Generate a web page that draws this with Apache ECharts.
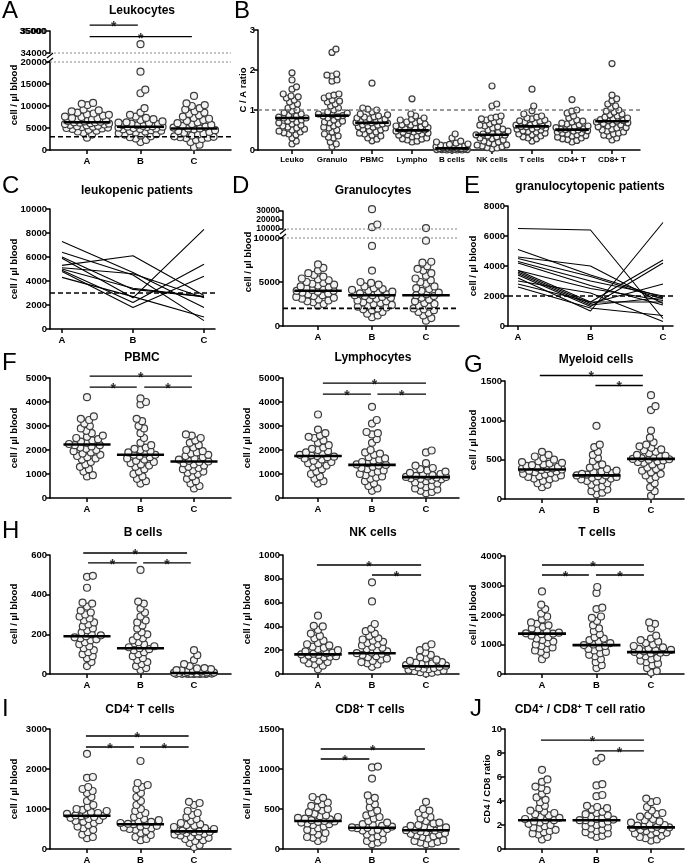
<!DOCTYPE html>
<html><head><meta charset="utf-8">
<script src="https://cdn.jsdelivr.net/npm/echarts@6/dist/echarts.min.js"></script>
<style>html,body{margin:0;padding:0;background:#fff}#c{width:689px;height:865px}</style>
</head><body><div id="c"></div><script>
// ---------------- DATA ----------------
const groupLabels = ['A','B','C'];
// A: Leukocytes (cell/µl)
const leukoA = [10700,10500,10200,9200,9000,8800,8500,8300,8100,8000,7800,7600,7500,7300,7200,7000,6900,6800,6700,6600,6500,6400,6300,6300,6200,6100,6000,5900,5800,5700,5600,5500,5400,5300,5200,5100,5000,4900,4800,4600,4400,4200,3900,3500,2800];
const leukoB = [17800,13700,12900,9500,8500,8000,7600,7300,7000,6800,6500,6300,6200,6100,6000,5900,5700,5600,5500,5400,5300,5300,5200,5100,5000,4900,4800,4700,4500,4400,4300,4200,4000,3800,3600,3500,3300,3100,2900,2600,2300,1800];
const leukoBHigh = [34400];
const leukoC = [12300,10600,10200,10000,9500,9200,8800,8500,8200,7900,7600,7300,7100,6800,6600,6300,6100,5900,5700,5500,5300,5100,4900,4900,4700,4500,4300,4100,3900,3700,3500,3300,3100,3000,2900,2800,2700,2500,2300,1800,1200,700];
const leukoMed = [6300,5300,4900];
const leukoThreshold = 3000;
const leukoUpperTicks = [34000,35000];
// B: C/A ratio
const ratioCats = ['Leuko','Granulo','PBMC','Lympho','B cells','NK cells','T cells','CD4+ T','CD8+ T'];
const ratioLeuko = [1.93,1.75,1.58,1.52,1.4,1.35,1.33,1.3,1.25,1.2,1.15,1.1,1.05,1.0,0.97,0.93,0.9,0.87,0.85,0.82,0.8,0.8,0.78,0.75,0.72,0.7,0.68,0.65,0.62,0.6,0.57,0.55,0.52,0.5,0.47,0.45,0.43,0.4,0.38,0.3,0.22,0.15];
const ratioGranulo = [2.52,2.44,1.9,1.87,1.85,1.75,1.72,1.4,1.37,1.35,1.3,1.25,1.22,1.2,1.15,1.1,1.05,1.0,0.95,0.92,0.9,0.88,0.86,0.85,0.83,0.8,0.75,0.72,0.7,0.68,0.65,0.6,0.57,0.55,0.5,0.45,0.4,0.35,0.32,0.3,0.2,0.15,0.08];
const ratioPBMC = [1.67,1.05,1.02,1.0,0.95,0.9,0.88,0.85,0.83,0.82,0.8,0.78,0.77,0.75,0.73,0.72,0.7,0.69,0.68,0.67,0.65,0.63,0.62,0.6,0.58,0.57,0.55,0.52,0.5,0.48,0.45,0.42,0.4,0.37,0.35,0.3,0.27,0.23];
const ratioLympho = [1.28,0.9,0.85,0.8,0.77,0.75,0.72,0.7,0.68,0.65,0.63,0.62,0.6,0.58,0.56,0.55,0.53,0.52,0.5,0.49,0.48,0.47,0.45,0.44,0.42,0.4,0.38,0.37,0.35,0.33,0.3,0.28,0.27,0.25,0.22,0.2];
const ratioB = [0.4,0.3,0.22,0.2,0.17,0.15,0.14,0.12,0.11,0.1,0.09,0.08,0.08,0.07,0.06,0.06,0.05,0.05,0.04,0.04,0.03,0.03,0.02,0.02,0.02,0.01,0.01,0.01,0.0,0.0,0.0,0.0];
const ratioNK = [1.6,1.15,1.1,0.85,0.82,0.8,0.78,0.75,0.72,0.7,0.65,0.62,0.6,0.58,0.55,0.52,0.5,0.47,0.45,0.42,0.4,0.38,0.37,0.35,0.33,0.3,0.28,0.25,0.22,0.2,0.18,0.15,0.13,0.12,0.1,0.08,0.06,0.05,0.03];
const ratioT = [1.52,1.1,0.98,0.9,0.85,0.82,0.8,0.78,0.75,0.73,0.72,0.7,0.68,0.65,0.63,0.62,0.6,0.59,0.58,0.57,0.55,0.53,0.52,0.5,0.48,0.46,0.45,0.42,0.4,0.38,0.35,0.33,0.3,0.28,0.22];
const ratioCD4 = [1.26,1.0,0.97,0.92,0.85,0.8,0.75,0.72,0.7,0.67,0.65,0.63,0.6,0.58,0.56,0.55,0.53,0.52,0.51,0.5,0.48,0.47,0.45,0.43,0.42,0.4,0.38,0.36,0.35,0.32,0.3,0.28,0.26,0.24,0.2];
const ratioCD8 = [2.16,1.37,1.28,1.23,1.15,1.1,1.05,1.0,0.97,0.95,0.9,0.88,0.85,0.82,0.8,0.78,0.76,0.74,0.73,0.72,0.7,0.68,0.66,0.65,0.63,0.6,0.58,0.56,0.55,0.52,0.5,0.47,0.45,0.42,0.4,0.37,0.35,0.3,0.25];
const ratioMed = [0.8,0.86,0.68,0.49,0.04,0.38,0.59,0.51,0.72];
// C: leukopenic patients (per patient: A, B, C)
const leukopenicA = [7300,6400,6000,5900,5300,5100,5000,4900,4800,4300];
const leukopenicB = [4700,4500,3300,2600,6100,4600,3400,2200,1800,2700];
const leukopenicC = [1800,700,2700,8300,2800,2600,2700,5400,4400,1000];
// D: Granulocytes
const granuA = [7000,6600,6300,6000,5800,5600,5400,5300,5200,5000,4900,4800,4700,4600,4500,4400,4300,4200,4100,4000,4000,3900,3800,3700,3600,3500,3400,3300,3200,3100,3000,2900,2800,2700,2500,2300];
const granuB = [9100,6300,5000,4900,4700,4500,4300,4200,4100,4000,3900,3800,3700,3600,3500,3500,3400,3300,3200,3100,3000,2900,2800,2700,2600,2500,2400,2300,2200,2100,2000,1900,1800,1600,1400,1200,1000];
const granuBHigh = [32000,15000,12000];
const granuC = [9700,7300,7200,6800,6500,6300,6000,5700,5400,5200,5000,4800,4500,4300,4200,4000,3800,3600,3500,3400,3200,3000,2800,2600,2500,2300,2200,2000,1900,1800,1600,1500,1200,900,600];
const granuCHigh = [11000];
const granuMed = [4000,3500,3500];
const granuThreshold = 2000;
// E: granulocytopenic patients
const granulopenicA = [6500,5100,4600,4500,4300,4200,3700,3700,3600,3500,3400,3200,3000,2800,2600];
const granulopenicB = [6400,3400,4000,3300,3000,2700,2500,1600,1500,1400,1300,1000,2200,1600,1200];
const granulopenicC = [500,1900,1500,1800,2000,1400,1700,4400,2800,1900,4200,6900,300,1600,700];
// F: PBMC
const pbmcA = [4200,3400,3300,3250,3100,3000,2900,2800,2700,2600,2550,2500,2450,2400,2350,2300,2250,2200,2200,2150,2100,2050,2000,1950,1900,1850,1800,1750,1700,1650,1600,1500,1400,1300,1200,1100,950,900];
const pbmcB = [4150,4000,3900,3300,3200,3000,2900,2700,2500,2300,2200,2100,2050,2000,1950,1900,1850,1800,1800,1750,1700,1650,1600,1550,1500,1450,1400,1350,1300,1200,1100,1000,900,800,700,600];
const pbmcC = [2650,2600,2500,2400,2300,2200,2100,2000,1950,1900,1850,1800,1750,1700,1650,1600,1550,1520,1500,1450,1400,1350,1300,1250,1200,1150,1100,1050,1000,900,800,700,600,500,400];
const pbmcMed = [2230,1800,1520];
// Lymphocytes
const lymphoA = [3480,2850,2700,2600,2550,2500,2400,2300,2200,2100,2050,2000,1950,1900,1850,1800,1780,1750,1720,1700,1650,1600,1550,1500,1450,1400,1350,1300,1200,1100,1000,900,800,700,600];
const lymphoB = [3800,3250,3100,2750,2700,2650,2450,2300,2000,1900,1850,1800,1700,1650,1600,1550,1500,1450,1400,1380,1350,1300,1250,1200,1150,1100,1050,1000,950,900,850,800,700,600,500,400,300];
const lymphoC = [1980,1900,1450,1350,1250,1200,1150,1100,1050,1000,980,950,920,900,880,870,850,820,800,780,750,700,650,600,550,500,450,400,350,300,250,200];
const lymphoMed = [1750,1380,870];
// G: Myeloid cells
const myeloA = [600,560,540,520,500,480,470,460,450,440,430,420,410,400,390,385,380,375,370,360,350,340,330,320,310,300,290,280,270,260,250,230,200,180,150];
const myeloB = [930,690,660,600,560,520,480,440,420,400,380,360,350,340,330,320,310,300,300,290,280,270,260,250,240,230,220,200,180,160,140,120,100,80,60];
const myeloC = [1320,1180,1130,870,780,720,690,670,650,630,620,600,580,560,550,540,530,520,510,505,500,490,480,470,460,440,420,400,380,360,340,320,300,280,250,200,150,100,40];
const myeloMed = [375,300,510];
// H: B cells
const bcellA = [495,490,435,360,355,340,320,310,300,290,280,270,260,250,240,230,220,210,200,195,190,185,180,175,170,160,150,140,130,120,110,100,90,80,60,40];
const bcellB = [525,365,355,330,310,290,270,260,245,230,210,200,190,180,170,160,150,140,135,130,125,120,110,100,90,80,70,60,50,40,30,20];
const bcellC = [120,95,70,50,40,30,28,25,20,18,15,12,10,8,7,6,5,5,4,3,3,2,2,1,1,0,0,0,0];
const bcellMed = [190,130,5];
// NK cells
const nkA = [490,405,400,370,340,320,300,280,260,250,240,230,220,210,200,190,180,175,170,165,160,155,150,145,140,130,120,110,100,90,80,70,40];
const nkB = [770,610,420,380,360,340,320,300,290,280,270,260,250,240,230,220,210,200,190,180,175,170,160,150,140,130,120,110,100,90,80,60];
const nkC = [250,230,200,180,160,140,130,120,110,100,95,90,85,80,75,70,65,60,55,50,45,40,35,30,25,20,15,10,5];
const nkMed = [165,175,65];
// T cells
const tcellA = [2800,2350,2200,2050,1950,1850,1750,1700,1650,1600,1550,1500,1450,1400,1380,1370,1350,1300,1250,1200,1150,1100,1050,1000,950,900,850,800,750,650,500];
const tcellB = [2950,2750,2250,2200,1950,1900,1800,1650,1550,1450,1350,1250,1200,1150,1100,1050,1000,980,950,900,850,800,750,700,650,600,500,400,300,200];
const tcellC = [1750,1700,1550,1300,1200,1150,1100,1050,1000,950,900,870,850,820,800,770,750,740,720,700,650,600,550,500,450,400,350,300,200,100,50];
const tcellMed = [1370,980,740];
// I: CD4+ T cells
const cd4A = [2380,1800,1780,1550,1500,1450,1400,1300,1200,1100,1050,1000,980,950,920,900,880,860,840,830,820,800,780,750,720,700,680,650,600,560,520,480,420,360,300,270];
const cd4B = [2200,1650,1600,1550,1500,1400,1300,1200,1100,1000,950,900,850,800,750,720,700,680,650,630,620,600,580,560,540,520,500,480,450,400,350,300,250,220];
const cd4C = [1180,1150,1100,950,900,850,800,750,700,650,620,600,580,550,520,500,480,460,450,440,430,420,400,380,360,340,320,300,280,250,220,200,150,100,50];
const cd4Med = [830,620,440];
// CD8+ T cells
const cd8A = [650,640,610,580,560,540,520,500,480,460,440,420,410,400,390,380,370,360,350,345,340,330,320,310,300,280,260,240,220,200,180,150,140,130,100];
const cd8B = [1030,1020,880,670,640,600,560,520,480,450,420,400,380,350,330,310,300,290,280,270,265,260,250,240,230,220,200,180,160,140,120,100,80,60];
const cd8C = [590,500,480,450,430,400,380,350,330,320,300,290,280,270,260,250,240,235,230,220,210,200,190,180,170,160,150,130,110,100,90,80,70,60];
const cd8Med = [350,265,235];
// J: CD4/CD8 ratio
const cdRatioA = [6.6,5.8,5.6,5.2,5.1,4.9,4.6,4.3,4.1,3.9,3.6,3.4,3.2,3.1,3.0,2.9,2.8,2.7,2.6,2.5,2.4,2.4,2.3,2.2,2.1,2.0,1.9,1.8,1.7,1.6,1.5,1.4,1.3,1.2,1.0,0.8];
const cdRatioB = [7.6,7.3,5.4,5.3,4.5,4.4,3.6,3.5,3.4,3.3,3.1,3.0,2.9,2.8,2.7,2.6,2.5,2.45,2.4,2.4,2.3,2.2,2.1,2.0,1.9,1.8,1.7,1.6,1.5,1.4,1.3,1.2,1.1,1.0];
const cdRatioC = [4.2,4.0,3.9,3.5,3.2,3.0,2.9,2.8,2.7,2.5,2.4,2.3,2.2,2.1,2.0,1.95,1.9,1.85,1.8,1.75,1.7,1.65,1.6,1.5,1.4,1.35,1.3,1.2,1.1,1.0,0.9,0.8,0.7];
const cdRatioMed = [2.4,2.4,1.8];

// ---------------- BUILD ----------------
const FONT = '"Liberation Sans", Arial, Helvetica, sans-serif';
const BLACK = '#000';
const grids = [], xAxis = [], yAxis = [], series = [], graphic = [];

function axes(o){
  const gi = grids.length;
  grids.push({left:o.L, top:o.T, width:o.R-o.L, height:o.B-o.T});
  const xmin = (o.L-o.cx0)/o.d, xmax = (o.R-o.cx0)/o.d;
  const labels = o.labels || [];
  const ticks = labels.map((_,i)=>i);
  xAxis.push({gridIndex:gi, type:'value', min:xmin, max:xmax, show:labels.length>0,
    axisLine:{show:true,onZero:false,lineStyle:{color:BLACK,width:1.5}},
    axisTick:{show:true,customValues:ticks,length:4,lineStyle:{color:BLACK,width:1.5}},
    axisLabel:{show:true,customValues:ticks,formatter:v=>labels[Math.round(v)]||'',color:BLACK,fontFamily:FONT,fontWeight:'bold',fontSize:o.xfs||9.5,margin:6},
    splitLine:{show:false}});
  const yTick = {show:true,length:4,lineStyle:{color:BLACK,width:1.5}};
  const yLab = {color:BLACK,fontFamily:FONT,fontWeight:'bold',fontSize:o.yfs||9.5,margin:3,formatter:v=>String(Math.round(v*1000)/1000),
      showMinLabel:true, showMaxLabel:true, hideOverlap:false};
  if (o.yTicks){ yTick.customValues = o.yTicks; yLab.customValues = o.yTicks; }
  yAxis.push({gridIndex:gi, type:'value', min:o.yMin, max:o.yMax, interval:o.yInt,
    axisLine:{show:true,onZero:false,lineStyle:{color:BLACK,width:1.5}},
    axisTick:yTick, axisLabel:yLab, splitLine:{show:false}});
  return {gi, xmin, xmax, d:o.d, pxY:(o.B-o.T)/(o.yMax-o.yMin), T:o.T, B:o.B, L:o.L, yMin:o.yMin};
}

// bounded beeswarm: offsets in px, limited to +-maxHalf; overlaps allowed when crowded
function swarm(vals, pxY, pxX, size, maxHalf){
  const pts = vals.slice().sort((a,b)=>a-b).map(v=>({v, y:v*pxY, x:0}));
  const placed = [];
  for (const p of pts){
    const near = placed.filter(q=>Math.abs(q.y-p.y)<size);
    const cands = [0];
    for (const q of near){ const dx = Math.sqrt(size*size-(q.y-p.y)**2); cands.push(q.x+dx, q.x-dx); }
    const ok = cands.filter(c=>Math.abs(c)<=maxHalf).sort((a,b)=>Math.abs(a)-Math.abs(b));
    let chosen = null;
    for (const c of ok){
      if (near.every(q=>(q.x-c)**2+(q.y-p.y)**2 >= size*size-0.01)){ chosen = c; break; }
    }
    if (chosen === null){
      let best = -1;
      for (let c=-maxHalf; c<=maxHalf; c+=0.5){
        const md = Math.min(...near.map(q=>(q.x-c)**2+(q.y-p.y)**2));
        if (md > best + 1e-6 || (Math.abs(md-best)<1e-6 && Math.abs(c)<Math.abs(chosen))){ best = md; chosen = c; }
      }
    }
    p.x = chosen;
    placed.push(p);
  }
  return placed.map(p=>[p.x/pxX, p.v]);
}

function dots(ax, groups, size, idx, maxHalf){
  groups.forEach((vals,k)=>{
    const i = idx ? idx[k] : k;
    const pts = swarm(vals, ax.pxY, ax.d, size*0.85, maxHalf||20).map(([dx,v])=>[i+dx, v]);
    series.push({type:'scatter', xAxisIndex:ax.gi, yAxisIndex:ax.gi, data:pts, symbol:'circle', symbolSize:size,
      clip:false, silent:true, z:2,
      itemStyle:{color:'#f3f3f3', borderColor:'#3c3c3c', borderWidth:1.2, opacity:1}});
  });
}
function seg(ax, x1, x2, y, w, type, color, z){
  return {type:'line', xAxisIndex:ax.gi, yAxisIndex:ax.gi, data:[[x1,y],[x2,y]], symbol:'none', clip:false,
    silent:true, z:z||5, lineStyle:{color:color||BLACK, width:w, type:type||'solid'}};
}
function medians(ax, meds, hw){ meds.forEach((m,i)=>series.push(seg(ax, i-hw, i+hw, m, 2.6, 'solid', BLACK, 6))); }
function hline(ax, y, type, color, w){ series.push(seg(ax, ax.xmin, ax.xmax, y, w||1.5, type, color, 3)); }
function sig(ax, bars){
  bars.forEach(([a,b,y])=>{
    series.push(seg(ax, a, b, y, 1.3, 'solid', BLACK, 5));
    series.push({type:'scatter', xAxisIndex:ax.gi, yAxisIndex:ax.gi, data:[[(a+b)/2, y]], symbolSize:1, clip:false, silent:true,
      itemStyle:{color:'rgba(0,0,0,0)'},
      label:{show:true, formatter:'*', position:'inside', color:BLACK, fontSize:14, fontWeight:'bold', fontFamily:FONT, offset:[0,2]}});
  });
}
function patients(ax, a, b, c){
  a.forEach((v,i)=>series.push({type:'line', xAxisIndex:ax.gi, yAxisIndex:ax.gi, data:[[0,a[i]],[1,b[i]],[2,c[i]]],
    symbol:'none', clip:false, silent:true, z:2, lineStyle:{color:BLACK, width:1.1}}));
}
function text(x, y, t, opts){
  graphic.push(Object.assign({type:'text', x, y, silent:true, style:Object.assign({text:t, fill:BLACK, align:'center', verticalAlign:'middle', font:'bold 12px '+FONT}, opts&&opts.style||{})}, opts&&opts.el||{}));
}
function yname(x, y, t){ text(x, y, t, {style:{font:'bold 9.5px '+FONT}, el:{rotation:Math.PI/2}}); }
function brk(x, y){
  graphic.push({type:'line', silent:true, shape:{x1:x-3,y1:y+1,x2:x+3,y2:y-4}, style:{stroke:BLACK, lineWidth:1.2}});
  graphic.push({type:'line', silent:true, shape:{x1:x-3,y1:y+6,x2:x+3,y2:y+1}, style:{stroke:BLACK, lineWidth:1.2}});
}

// Column geometry
const LC = {L:50, R:231, cx0:87, d:53.5};
const MC = {L:283, R:459, cx0:318, d:54};
const RC = {L:505, R:684, cx0:542, d:54.5};

// Panel A (broken axis)
const aUp = axes({L:50, R:231, T:31, B:53, cx0:87, d:53.5, yMin:34000, yMax:35000, yInt:1000, yTicks:leukoUpperTicks});
const aLo = axes({L:50, R:231, T:62, B:150, cx0:87, d:53.5, yMin:0, yMax:20000, yInt:5000, labels:groupLabels});
hline(aUp, 34000, [2,2], '#888', 1); hline(aLo, 20000, [2,2], '#888', 1);
hline(aLo, leukoThreshold, [5,3], BLACK, 1.6);
dots(aLo, [leukoA, leukoB, leukoC], 7, null, 22);
dots(aUp, [leukoBHigh], 7, [1]);
medians(aLo, leukoMed, 0.44);
sig(aUp, [[0.05,0.95,35270],[0.05,1.96,34740]]);
brk(50, 57);
// top tick label of the short upper segment (placed at the 35000 tick of aUp)
text(aUp.L-4, aUp.T, String(leukoUpperTicks[1]), {style:{font:'bold 9.5px '+FONT, align:'right'}});

// Panel B
const pB = axes({L:258, R:640, T:30, B:150, cx0:292, d:40, yMin:0, yMax:3, yInt:1, labels:ratioCats, xfs:8});
hline(pB, 1, [4,3], '#777', 1.3);
dots(pB, [ratioLeuko, ratioGranulo, ratioPBMC, ratioLympho, ratioB, ratioNK, ratioT, ratioCD4, ratioCD8], 6, null, 16);
medians(pB, ratioMed, 0.42);

// Panel C
const pC = axes({L:50, R:215, T:209, B:329, cx0:62, d:71, yMin:0, yMax:10000, yInt:2000, labels:groupLabels});
patients(pC, leukopenicA, leukopenicB, leukopenicC);
hline(pC, leukoThreshold, [5,3], BLACK, 1.6);

// Panel D (broken axis)
const dUp = axes({L:283, R:459, T:211, B:229, cx0:318, d:54, yMin:10000, yMax:30000, yInt:10000, yfs:8.5});
const dLo = axes({L:283, R:459, T:238, B:326, cx0:318, d:54, yMin:0, yMax:10000, yInt:5000, labels:groupLabels});
hline(dUp, 10000, [2,2], '#888', 1); hline(dLo, 10000, [2,2], '#888', 1);
hline(dLo, granuThreshold, [5,3], BLACK, 1.6);
dots(dLo, [granuA, granuB, granuC], 7, null, 22);
dots(dUp, [granuBHigh, granuCHigh], 7, [1,2]);
medians(dLo, granuMed, 0.44);
brk(283, 233);

// Panel E
const pE = axes({L:508, R:673, T:206, B:326, cx0:518, d:72.5, yMin:0, yMax:8000, yInt:2000, labels:groupLabels});
patients(pE, granulopenicA, granulopenicB, granulopenicC);
hline(pE, granuThreshold, [5,3], BLACK, 1.6);

// Row 3
const pF = axes(Object.assign({}, LC, {T:378, B:498, yMin:0, yMax:5000, yInt:1000, labels:groupLabels}));
dots(pF, [pbmcA, pbmcB, pbmcC], 7); medians(pF, pbmcMed, 0.44);
sig(pF, [[0.05,1.96,5080],[0.05,0.93,4620],[1.07,1.96,4620]]);
const pL = axes(Object.assign({}, MC, {T:378, B:498, yMin:0, yMax:5000, yInt:1000, labels:groupLabels}));
dots(pL, [lymphoA, lymphoB, lymphoC], 7); medians(pL, lymphoMed, 0.44);
sig(pL, [[0.09,2.0,4790],[0.09,0.98,4330],[1.1,2.0,4330]]);
const pG = axes(Object.assign({}, RC, {T:381, B:499, yMin:0, yMax:1500, yInt:500, labels:groupLabels}));
dots(pG, [myeloA, myeloB, myeloC], 7); medians(pG, myeloMed, 0.44);
sig(pG, [[-0.04,1.85,1570],[0.98,1.85,1443]]);

// Row 4
const pH = axes(Object.assign({}, LC, {T:555, B:674, yMin:0, yMax:600, yInt:200, labels:groupLabels}));
dots(pH, [bcellA, bcellB, bcellC], 7); medians(pH, bcellMed, 0.44);
sig(pH, [[-0.07,1.87,610],[0.02,0.93,560],[1.05,1.94,560]]);
const pNK = axes(Object.assign({}, MC, {T:555, B:674, yMin:0, yMax:1000, yInt:200, labels:groupLabels}));
dots(pNK, [nkA, nkB, nkC], 7); medians(pNK, nkMed, 0.44);
sig(pNK, [[-0.02,1.91,916],[1.0,1.91,832]]);
const pT = axes(Object.assign({}, RC, {T:556, B:674, yMin:0, yMax:4000, yInt:1000, labels:groupLabels}));
dots(pT, [tcellA, tcellB, tcellC], 7); medians(pT, tcellMed, 0.44);
sig(pT, [[0,1.87,3695],[0,0.86,3356],[0.99,1.87,3356]]);

// Row 5
const pI = axes(Object.assign({}, LC, {T:729, B:849, yMin:0, yMax:3000, yInt:1000, labels:groupLabels}));
dots(pI, [cd4A, cd4B, cd4C], 7); medians(pI, cd4Med, 0.44);
sig(pI, [[-0.02,1.9,2825],[-0.02,0.88,2550],[0.99,1.9,2550]]);
const p8 = axes(Object.assign({}, MC, {T:729, B:849, yMin:0, yMax:1500, yInt:500, labels:groupLabels}));
dots(p8, [cd8A, cd8B, cd8C], 7); medians(p8, cd8Med, 0.44);
sig(p8, [[0.05,1.98,1250],[0.05,0.95,1125]]);
const pJ = axes(Object.assign({}, RC, {T:729, B:849, yMin:0, yMax:10, yInt:2, labels:groupLabels}));
dots(pJ, [cdRatioA, cdRatioB, cdRatioC], 7); medians(pJ, cdRatioMed, 0.44);
sig(pJ, [[-0.02,1.87,9.08],[0.97,1.87,8.17]]);

// Texts: panel letters
const LETTER = {style:{font:'24px '+FONT, align:'left'}};
[['A',2,11],['B',234,11],['C',2,186],['D',232,186],['E',464,186],['F',2,363],['G',464,365],['H',2,531],['I',2,709],['J',470,709]]
  .forEach(([t,x,y])=>text(x,y,t,LETTER));
// titles
[[142,11,'Leukocytes'],[137,191,'leukopenic patients'],[373,191,'Granulocytes'],[590,187,'granulocytopenic patients'],
 [142,358,'PBMC'],[373,358,'Lymphocytes'],[596,360,'Myeloid cells'],[143,533,'B cells'],[373,533,'NK cells'],[597,533,'T cells']]
  .forEach(([x,y,t])=>text(x,y,t));
const RICH = {b:{font:'bold 12px '+FONT, lineHeight:14}, s:{font:'bold 8px '+FONT, verticalAlign:'top', lineHeight:14}};
text(140,710,'{b|CD4}{s|+}{b| T cells}',{style:{rich:RICH}});
text(370,710,'{b|CD8}{s|+}{b| T cells}',{style:{rich:RICH}});
text(580,710,'{b|CD4}{s|+}{b| / CD8}{s|+}{b| T cell ratio}',{style:{rich:RICH}});
// y axis names
const CELL = 'cell / µl blood';
[[14,95],[14,269],[248,262],[473,266],[14,438],[247,438],[473,440],[14,614],[247,614],[473,615],[14,789],[247,789]]
  .forEach(([x,y])=>yname(x,y,CELL));
yname(243,90,'C / A ratio');
yname(487,789,'CD4 / CD8 ratio');

const chart = echarts.init(document.getElementById('c'), null, {renderer:'canvas'});
chart.setOption({animation:false, backgroundColor:'#fff', textStyle:{fontFamily:FONT},
  grid:grids, xAxis:xAxis, yAxis:yAxis, series:series, graphic:graphic});
</script></body></html>
